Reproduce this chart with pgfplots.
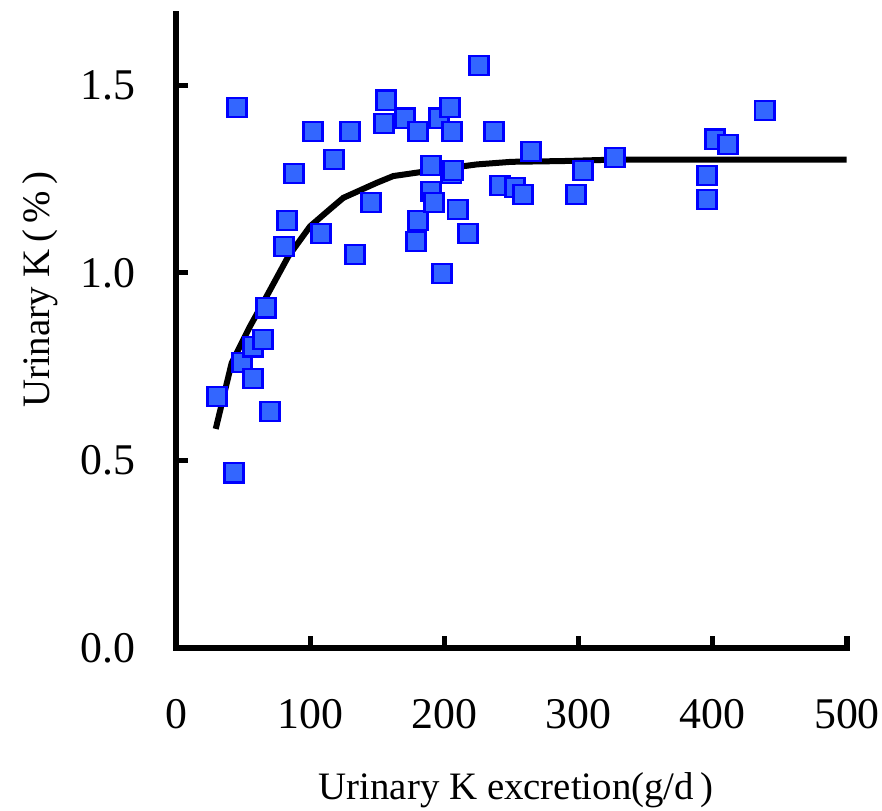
\documentclass[border=0pt]{standalone}
\usepackage{fontspec}
\setmainfont{Liberation Serif}
\usepackage{pgfplots}
\pgfplotsset{compat=1.18}
\definecolor{mkfill}{RGB}{51,102,255}
\definecolor{mkedge}{RGB}{0,0,255}
\begin{document}
\begin{tikzpicture}
\begin{axis}[
  scale only axis,
  width=335.5bp, height=317bp,
  xmin=0, xmax=500, ymin=0, ymax=1.69,
  axis x line=bottom, axis y line=left,
  axis line style={-, line width=2.6bp, line cap=rect},
  tick align=inside,
  major tick length=6bp,
  every tick/.style={black, line width=2.6bp},
  xtick={0,100,200,300,400,500},
  ytick={0,0.5,1.0,1.5},
  /pgf/number format/assume math mode=true,
  yticklabel style={/pgf/number format/.cd, fixed, fixed zerofill, precision=1, /tikz/.cd, font=\fontsize{22}{26}\selectfont, xshift=-17bp},
  xticklabel style={font=\fontsize{22}{26}\selectfont, yshift=-22bp},
  xlabel={Urinary K excretion(g/d\,)},
  ylabel={Urinary K\,(\,\%\,)},
  xlabel style={at={(axis description cs:0.507,0)}, anchor=center, yshift=-71bp, font=\fontsize{19.5}{23}\selectfont},
  ylabel style={at={(axis description cs:0,0.565)}, anchor=center, yshift=68bp, font=\fontsize{19.5}{23}\selectfont},
  clip=false,
]
\addplot[black, line width=3bp, sharp plot, no marks] coordinates {
(29.6,0.584) (41.5,0.760) (55.1,0.857) (67.6,0.938) (83.7,1.044) (99.9,1.124)
(114.8,1.170) (124.7,1.200) (149.6,1.240) (161.9,1.258) (196.7,1.276)
(224.1,1.289) (250.1,1.296) (288.4,1.298) (328.4,1.302) (499.8,1.302)
};
\addplot[only marks, mark=square*, mark size=4.8bp,
  mark options={fill=mkfill, draw=mkedge, line width=1.2bp}] coordinates {
(30.6,0.670) (45.5,1.441) (43.2,0.467) (49.2,0.761) (57.4,0.803) (57.4,0.718)
(64.8,0.822) (67.1,0.907) (70.0,0.630) (80.5,1.070) (82.7,1.140) (87.9,1.265)
(102.1,1.377) (108,1.105) (117.7,1.302) (129.7,1.377) (133.4,1.049) (145.3,1.188)
(155,1.398) (156.5,1.460) (170.6,1.412) (180.3,1.377) (180.3,1.140) (178.8,1.084)
(190,1.286) (190,1.217) (192.3,1.188) (196,1.412) (198.2,0.998) (204.2,1.441)
(205,1.265) (206.4,1.273) (205.7,1.377) (210,1.169) (217.6,1.105) (225.8,1.553)
(237,1.377) (241.4,1.233) (252.6,1.228) (258.6,1.209) (264.5,1.324) (298,1.209)
(303.3,1.273) (327.1,1.308) (395.7,1.260) (395.7,1.196) (401.6,1.356) (411.3,1.342)
(438.7,1.433)
};
\end{axis}
\pgfresetboundingbox
\useasboundingbox (-88bp,-81.5bp) rectangle (353bp,324bp);
\end{tikzpicture}
\end{document}
